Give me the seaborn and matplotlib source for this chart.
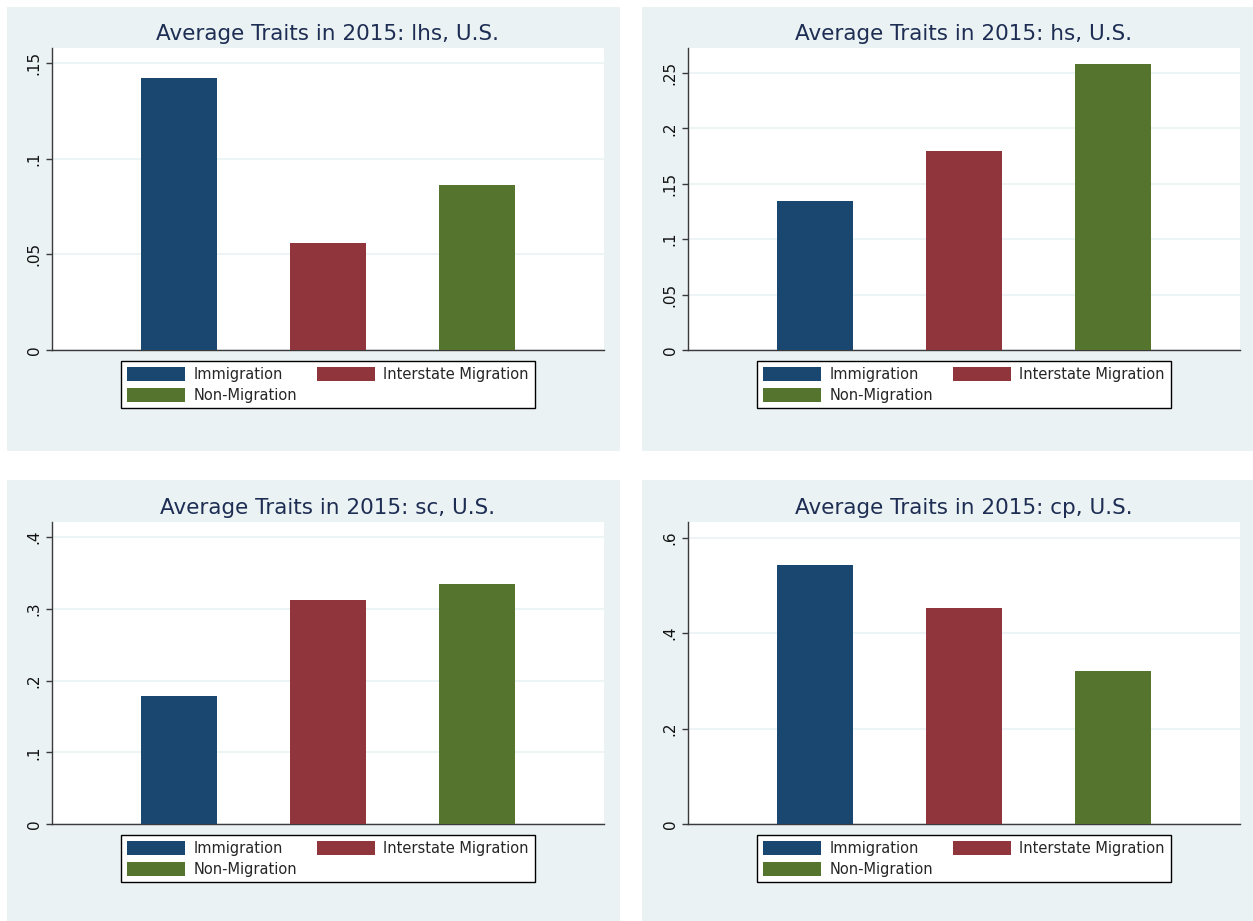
import pandas as pd
import matplotlib
matplotlib.use("Agg")
import matplotlib.pyplot as plt
from matplotlib.patches import Rectangle, Patch
from matplotlib.ticker import FuncFormatter
import seaborn as sns

sns.set_theme(style="ticks")
plt.rcParams['font.family'] = ['DejaVu Sans']

# Data
groups = ["Immigration", "Interstate Migration", "Non-Migration"]
traits = ["lhs", "hs", "sc", "cp"]
lhs_vals = [0.1425, 0.0562, 0.0865]
hs_vals = [0.1347, 0.1800, 0.2584]
sc_vals = [0.1790, 0.3117, 0.3340]
cp_vals = [0.5430, 0.4530, 0.3210]

lhs_ticks = [0, 0.05, 0.10, 0.15]
hs_ticks = [0, 0.05, 0.10, 0.15, 0.20, 0.25]
sc_ticks = [0, 0.1, 0.2, 0.3, 0.4]
cp_ticks = [0, 0.2, 0.4, 0.6]

values = [lhs_vals, hs_vals, sc_vals, cp_vals]
ticks = [lhs_ticks, hs_ticks, sc_ticks, cp_ticks]
ytops = [0.158, 0.2726, 0.421, 0.633]

# Stata s2color look
COLORS = ["#1A476F", "#90353B", "#55752F"]
PANEL_BG = "#EAF2F3"
TITLE_COLOR = "#1E2D53"

W, H = 1253, 921
fig = plt.figure(figsize=(W / 100, H / 100), dpi=100)
fig.patch.set_facecolor("white")

def frac(x0, y0, x1, y1):
    return [x0 / W, 1 - y1 / H, (x1 - x0) / W, (y1 - y0) / H]

panel_px = [(7, 7, 620, 451), (642, 7, 1253, 451),
            (7, 480, 620, 921), (642, 480, 1253, 921)]
axes_px = [(52, 48, 604, 350), (688, 48, 1240, 350),
           (52, 522, 604, 824), (688, 522, 1240, 824)]

fmt = FuncFormatter(lambda v, _: "0" if v == 0 else f"{v:g}".lstrip("0"))

# legend fills column-wise, so order items to read row-wise like Stata
leg_order = [0, 2, 1]

for trait, vals, tks, ytop, ppx, apx in zip(traits, values, ticks, ytops, panel_px, axes_px):
    l, b, w, h = frac(*ppx)
    fig.add_artist(Rectangle((l, b), w, h, transform=fig.transFigure,
                             facecolor=PANEL_BG, edgecolor="none", zorder=0))

    ax = fig.add_axes(frac(*apx))
    df = pd.DataFrame({"group": groups, "value": vals})
    sns.barplot(data=df, x="group", y="value", hue="group", palette=COLORS,
                width=0.51, legend=False, saturation=1, ax=ax, zorder=3,
                linewidth=0)

    ax.set_facecolor("white")
    ax.set_xlim(-0.856, 2.856)
    ax.set_ylim(0, ytop)
    ax.set_yticks(tks)
    ax.yaxis.set_major_formatter(fmt)
    ax.set_xticks([])
    ax.set_xlabel("")
    ax.set_ylabel("")
    ax.grid(axis="y", color=PANEL_BG, linewidth=1.2)
    ax.set_axisbelow(True)
    for s in ["top", "right"]:
        ax.spines[s].set_visible(False)
    for s in ["left", "bottom"]:
        ax.spines[s].set_color("#3a3a3a")
        ax.spines[s].set_linewidth(1.0)
    ax.tick_params(axis="y", length=4, width=1, color="#3a3a3a", pad=3.5,
                   labelsize=11, labelcolor="#111111")
    for lab in ax.get_yticklabels():
        lab.set_rotation(90)
        lab.set_va("center")

    ax.set_title(f"Average Traits in 2015: {trait}, U.S.", fontsize=15.5,
                 color=TITLE_COLOR, pad=6)

    handles = [Patch(facecolor=COLORS[i], edgecolor="none") for i in leg_order]
    labels = [groups[i] for i in leg_order]
    leg = ax.legend(handles, labels, ncol=2, loc="upper center",
                    bbox_to_anchor=(0.5, -11 / 302), borderaxespad=0,
                    fontsize=10.5, frameon=True, fancybox=False,
                    edgecolor="black", framealpha=1, borderpad=0.4,
                    handlelength=3.95, handleheight=1.1, handletextpad=0.6,
                    columnspacing=1.35, labelspacing=0.4)
    leg.get_frame().set_linewidth(1.0)

fig.savefig("out.png", dpi=100, facecolor="white")
